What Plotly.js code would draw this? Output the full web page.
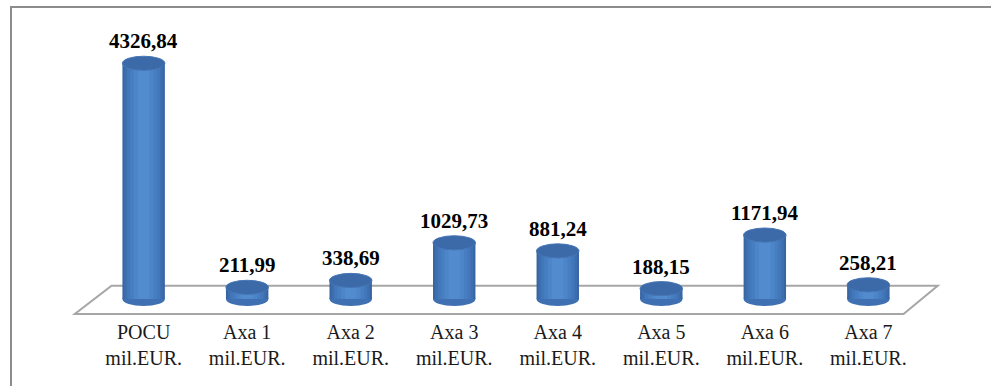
<!DOCTYPE html>
<html>
<head>
<meta charset="utf-8">
<script src="https://cdn.plot.ly/plotly-3.0.1.min.js"></script>
<style>
html,body{margin:0;padding:0;background:#fff;}
#chart{width:991px;height:386px;}
#chart text{font-family:"Liberation Serif","Times New Roman","DejaVu Serif",serif !important;}
</style>
</head>
<body>
<div id="chart"></div>
<script>
// ---- data ----
const categories = ["POCU", "Axa 1", "Axa 2", "Axa 3", "Axa 4", "Axa 5", "Axa 6", "Axa 7"];
const unitLabel = "mil.EUR.";
const values = [4326.84, 211.99, 338.69, 1029.73, 881.24, 188.15, 1171.94, 258.21];
const tickLabels = categories.map(c => c + "<br>" + unitLabel);

// ---- geometry (styling) ----
const idx = categories.map((_, i) => i);
const yMin = -351, yMax = 5122;
const rx = 0.205;          // cylinder half width (x units)
const ry = 130;            // ellipse half height (y units)
const SERIF = "Liberation Serif";

// layered bars to imitate a cylinder's shading
const layers = [
  {w: 0.41, c: "#3866a3"},
  {w: 0.37, c: "#3d6fb0"},
  {w: 0.32, c: "#4277b9"},
  {w: 0.26, c: "#477ec2"},
  {w: 0.19, c: "#4d85c9"},
  {w: 0.11, c: "#528bce"}
];
const traces = layers.map(L => ({
  type: "bar",
  x: idx,
  y: values,
  base: 0,
  width: L.w,
  marker: {color: L.c, line: {width: 0}},
  hoverinfo: "skip",
  showlegend: false
}));

const shapes = [];
// floor (parallelogram)
shapes.push({
  type: "path", xref: "x", yref: "y", layer: "below",
  path: "M -0.665 -277 L 7.34 -277 L 7.67 240 L -0.31 240 Z",
  line: {color: "#a6a6a6", width: 2}, fillcolor: "rgba(0,0,0,0)"
});
// bottom ellipses
idx.forEach(i => shapes.push({
  type: "circle", xref: "x", yref: "y", layer: "below",
  x0: i - rx, x1: i + rx, y0: -ry, y1: ry,
  fillcolor: "#3f71b2", line: {width: 0}
}));
// top ellipses
idx.forEach(i => shapes.push({
  type: "circle", xref: "x", yref: "y", layer: "above",
  x0: i - rx, x1: i + rx, y0: values[i] - ry, y1: values[i] + ry,
  fillcolor: "#3c69a7", line: {color: "#4676b6", width: 1}
}));

const annotations = idx.map(i => ({
  x: i, y: values[i], xref: "x", yref: "y",
  text: "<b>" + values[i].toFixed(2).replace(".", ",") + "</b>",
  showarrow: false, yanchor: "bottom", yshift: 8,
  font: {family: SERIF, size: 21, color: "#000"}
}));

const layout = {
  width: 991, height: 386,
  margin: {l: 66, r: 45, t: 20, b: 68},
  paper_bgcolor: "#fff", plot_bgcolor: "rgba(0,0,0,0)",
  barmode: "overlay",
  font: {family: SERIF},
  xaxis: {
    range: [-0.75, 7.75], tickmode: "array", tickvals: idx, ticktext: tickLabels,
    showgrid: false, zeroline: false, showline: false, ticks: "",
    tickfont: {family: SERIF, size: 20, color: "#1a1a1a"},
    fixedrange: true
  },
  yaxis: {
    range: [yMin, yMax], showgrid: false, zeroline: false, showline: false,
    showticklabels: false, ticks: "", fixedrange: true
  },
  shapes: shapes,
  annotations: annotations
};

Plotly.newPlot("chart", traces, layout, {displayModeBar: false, staticPlot: true}).then(() => {
  // outer frame of the chart area (cut off by the window at right and bottom)
  const svg = document.querySelector("#chart svg.main-svg");
  const ns = "http://www.w3.org/2000/svg";
  const p = document.createElementNS(ns, "path");
  p.setAttribute("d", "M 11 400 L 11 7 L 1000 7");
  p.setAttribute("fill", "none");
  p.setAttribute("stroke", "#8c8c8c");
  p.setAttribute("stroke-width", "2");
  svg.appendChild(p);
});
</script>
</body>
</html>
